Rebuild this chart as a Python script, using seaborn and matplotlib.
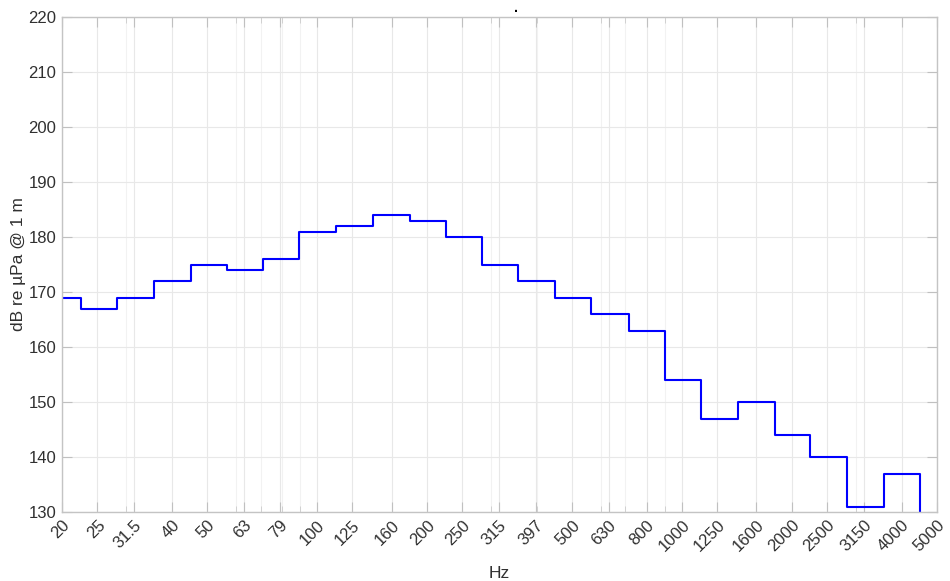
import matplotlib
matplotlib.use("Agg")
import matplotlib.pyplot as plt
import matplotlib.ticker as mticker
import seaborn as sns
import numpy as np

freq_labels = ["20", "25", "31.5", "40", "50", "63", "79", "100", "125", "160", "200",
               "250", "315", "397", "500", "630", "800", "1000", "1250", "1600", "2000",
               "2500", "3150", "4000", "5000"]
freqs = [20, 25, 31.5, 40, 50, 63, 79, 100, 125, 160, 200, 250, 315, 397, 500, 630,
         800, 1000, 1250, 1600, 2000, 2500, 3150, 4000, 5000]
levels = [169, 167, 169, 172, 175, 174, 176, 181, 182, 184, 183, 180, 175, 172, 169,
          166, 163, 154, 147, 150, 144, 140, 131, 137, 125]
y_ticks = [130, 140, 150, 160, 170, 180, 190, 200, 210, 220]

sns.set_theme(style="white")
plt.rcParams['font.family'] = ['Liberation Sans', 'DejaVu Sans']

fig = plt.figure(figsize=(9.5, 5.81), dpi=100)
ax = fig.add_axes([62/950, 1 - 512/581, (937-62)/950, (512-17)/581])

sns.lineplot(x=freqs, y=levels, ax=ax, drawstyle='steps-mid', color='#0000ff',
             linewidth=1.5, estimator=None, sort=False)

ax.set_xscale('log')
ax.set_xlim(20, 5000)
ax.set_ylim(130, 220)
ax.set_xticks(freqs)
ax.set_xticklabels(freq_labels, rotation=45, ha='right', rotation_mode='anchor')
ax.xaxis.set_minor_locator(mticker.LogLocator(base=10, subs=np.arange(2, 10)))
ax.xaxis.set_minor_formatter(mticker.NullFormatter())
ax.set_yticks(y_ticks)

ax.grid(True, which='major', color='#e8e8e8', linewidth=0.8)
ax.grid(True, which='minor', axis='x', color='#f2f2f2', linewidth=0.8)
ax.set_axisbelow(True)

for s in ax.spines.values():
    s.set_color('#c4c4c4')
    s.set_linewidth(1.0)

ax.tick_params(axis='both', which='major', direction='in', length=7, width=0.8,
               color='#c0c0c0', labelcolor='#303030', labelsize=12,
               top=True, right=True, bottom=True, left=True, pad=4)
ax.tick_params(axis='x', which='minor', direction='in', length=4, width=0.7,
               color='#d0d0d0', top=True, bottom=True)

ax.set_xlabel('Hz', fontsize=12.5, color='#303030', labelpad=8)
ax.set_ylabel('dB re µPa @ 1 m', fontsize=12.5, color='#303030', labelpad=2)

ax.text((516 - 62) / 875, 1.005, '.', transform=ax.transAxes, ha='center',
        va='bottom', fontsize=10, color='black', fontweight='bold')

fig.savefig('out.png', dpi=100)
